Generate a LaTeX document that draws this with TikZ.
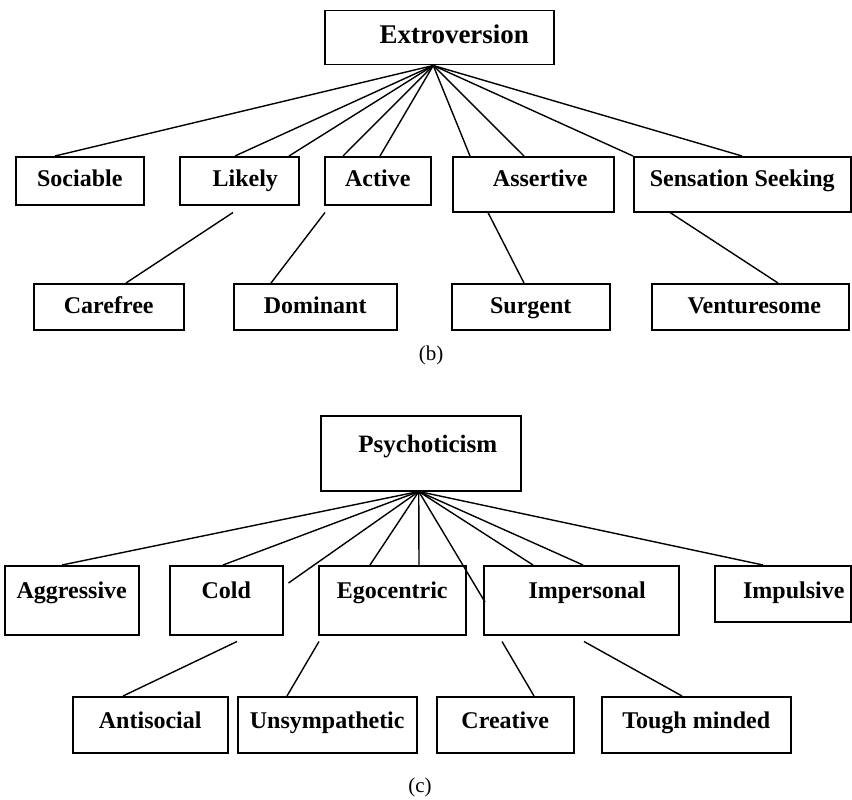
\documentclass[tikz,border=0pt]{standalone}
\usepackage{fontspec}
\setmainfont{Liberation Serif}
\tikzset{
  trait/.style={draw,line width=1.5pt,inner sep=0pt,anchor=north west,
                font=\fontsize{24}{28}\selectfont\bfseries},
  link/.style={line width=1.4pt},
  caption/.style={font=\fontsize{21}{24}\selectfont}
}

\begin{document}
\begin{tikzpicture}[x=1pt,y=-1pt]
  \useasboundingbox (0,0) rectangle (852,800);
  
  % (b) EXTROVERSION
  \node[trait,minimum width=229,text height=33,text depth=21,
        font=\fontsize{27}{30}\selectfont\bfseries] (ext) at (324,10) {\hspace*{30pt}Extroversion};
  \node[trait,minimum width=128,text height=30,text depth=18] (soc) at (15,156)  {Sociable};
  \node[trait,minimum width=119,text height=30,text depth=18] (lik) at (179,156) {\hspace*{12pt}Likely};
  \node[trait,minimum width=106,text height=30,text depth=18] (act) at (324,156) {Active};
  \node[trait,minimum width=161,text height=30,text depth=25] (ass) at (452,156) {\hspace*{14pt}Assertive};
  \node[trait,minimum width=217,text height=30,text depth=25] (sen) at (633,156) {Sensation Seeking};
  \node[trait,minimum width=150,text height=30,text depth=16] (car) at (33,283)  {Carefree};
  \node[trait,minimum width=163,text height=30,text depth=16] (dom) at (233,283) {Dominant};
  \node[trait,minimum width=158,text height=30,text depth=16] (sur) at (451,283) {Surgent};
  \node[trait,minimum width=197,text height=30,text depth=16] (ven) at (651,283) {\hspace*{8pt}Venturesome};
  \node[caption] (capb) at (431,355) {(b)};
  \coordinate (hubE) at ([xshift=-6]ext.south); % meeting point
  
  \foreach \n/\dx in {soc/40,lik/56,lik/110,act/19,act/56,ass/18,ass/72,sen/0,sen/109}
    \draw[link] (hubE) -- ([xshift=\dx]\n.north west);
  \draw[link] ([xshift=54,yshift=-7]lik.south west) -- ([xshift=93]car.north west);
  \draw[link] ([xshift=1,yshift=-7]act.south west) -- ([xshift=38]dom.north west);
  \draw[link] ([xshift=36]ass.south west) -- ([xshift=73]sur.north west);
  \draw[link] ([xshift=37]sen.south west) -- ([xshift=127]ven.north west);
  
  % (c) PSYCHOTICISM
  \node[trait,minimum width=200,text height=37,text depth=38,
        font=\fontsize{25}{28}\selectfont\bfseries] (psy) at (320,415) {\hspace*{14pt}Psychoticism};
  \node[trait,minimum width=134,text height=33,text depth=36] (agg)  at (4,565)   {Aggressive};
  \node[trait,minimum width=113,text height=33,text depth=36] (cold) at (169,565) {Cold};
  \node[trait,minimum width=147,text height=33,text depth=36] (ego)  at (318,565) {Egocentric};
  \node[trait,minimum width=195,text height=33,text depth=36] (imp)  at (483,565) {\hspace*{12pt}Impersonal};
  \node[trait,minimum width=136,text height=33,text depth=23] (imps) at (714,565) {\hspace*{22pt}Impulsive};
  \node[trait,minimum width=155,text height=32,text depth=24] (anti) at (72,696)  {Antisocial};
  \node[trait,minimum width=179,text height=32,text depth=24] (uns)  at (237,696) {Unsympathetic};
  \node[trait,minimum width=137,text height=32,text depth=24] (cre)  at (436,696) {Creative};
  \node[trait,minimum width=189,text height=32,text depth=24] (tou)  at (601,696) {Tough minded};
  \node[caption] (capc) at (420,787) {(c)};
  \coordinate (hubP) at ([xshift=-2]psy.south); % meeting point
  
  \foreach \n/\dx in {agg/58,cold/54,ego/52,ego/101,imp/50,imp/100,imps/49}
    \draw[link] (hubP) -- ([xshift=\dx]\n.north west);
  \draw[link] (hubP) -- ([xshift=5,yshift=-18]cold.north east); % loose end
  \draw[link] (hubP) -- ([xshift=2,yshift=-37]imp.north west);  % loose end
  \draw[link] ([xshift=68,yshift=-6]cold.south west) -- ([xshift=51]anti.north west);
  \draw[link] ([xshift=1,yshift=-6]ego.south west) -- ([xshift=50]uns.north west);
  \draw[link] ([xshift=19,yshift=-6]imp.south west) -- ([xshift=98]cre.north west);
  \draw[link] ([xshift=101,yshift=-6]imp.south west) -- ([xshift=81]tou.north west);
  
\end{tikzpicture}
\end{document}
